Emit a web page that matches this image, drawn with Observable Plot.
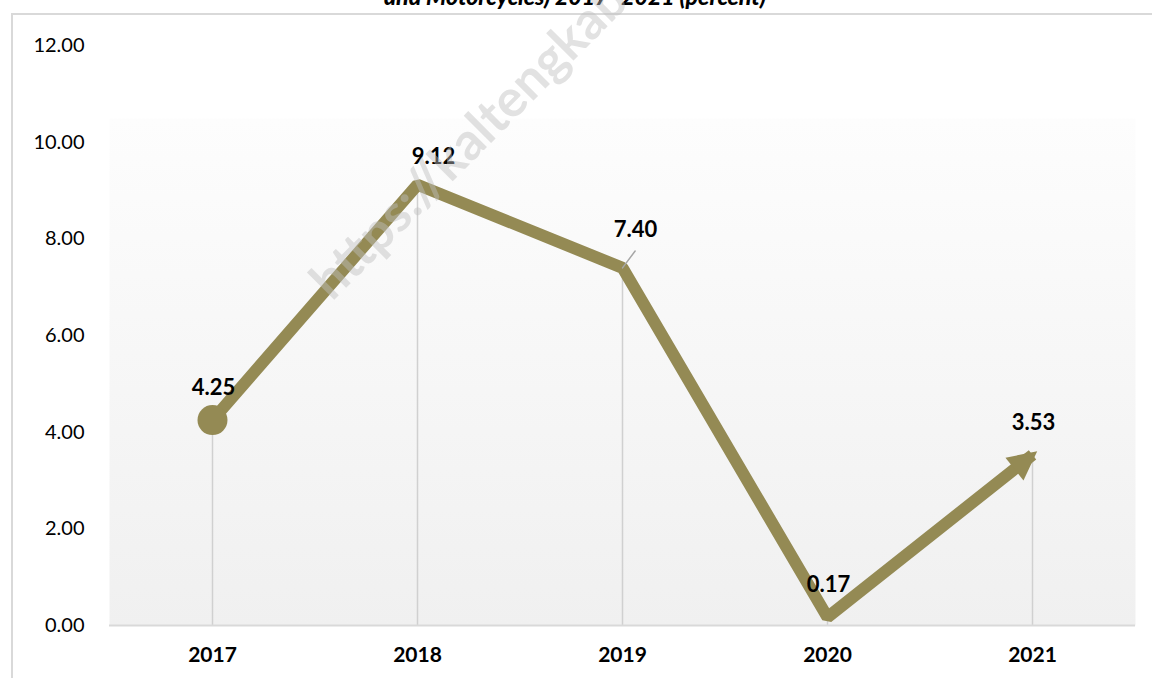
<!DOCTYPE html>
<html>
<head>
<meta charset="utf-8">
<script src="https://cdn.jsdelivr.net/npm/d3@7"></script>
<script src="https://cdn.jsdelivr.net/npm/@observablehq/plot@0.6"></script>
<style>
  html, body { margin: 0; padding: 0; background: #fff; }
  #wrap { position: relative; width: 1152px; height: 678px; overflow: hidden; font-family: Lato, "Open Sans", sans-serif; }
  #wrap > * { position: absolute; left: 0; top: 0; }
  #border { left: 11px; top: 13px; width: 1200px; height: 700px; border-top: 2px solid #d9d9d9; border-left: 2px solid #d9d9d9; box-sizing: border-box; }
  .overlay { pointer-events: none; }
</style>
</head>
<body>
<div id="wrap">
  <div id="border"></div>
  <div id="chart"></div>
  <svg class="overlay" width="1152" height="678" xmlns="http://www.w3.org/2000/svg">
    <text x="575" y="5" text-anchor="middle" font-family="Lato, 'Open Sans', sans-serif" font-size="23" font-weight="900" font-style="italic" fill="#000">and Motorcycles) 2017- 2021 (percent)</text>
    <text transform="translate(332,302) rotate(-45)" font-family="Lato, 'Open Sans', sans-serif" font-size="52" font-weight="bold" fill="#bfbfbf" opacity="0.45">https://kaltengkab.bps.go.id</text>
  </svg>
</div>
<script>
// ---- data ----
const years = ["2017", "2018", "2019", "2020", "2021"];
const growth = [4.25, 9.12, 7.40, 0.17, 3.53];
const yTicks = [0, 2, 4, 6, 8, 10, 12];

const data = years.map((year, i) => ({year, value: growth[i]}));
const lineColor = "#948a54";
const fmt = d => d.toFixed(2);

// filled arrowhead marker for the end of the line
function arrowHead(color) {
  const ns = "http://www.w3.org/2000/svg";
  const m = document.createElementNS(ns, "marker");
  m.setAttribute("viewBox", "-30 -18 40 36");
  m.setAttribute("markerWidth", "40");
  m.setAttribute("markerHeight", "36");
  m.setAttribute("markerUnits", "userSpaceOnUse");
  m.setAttribute("refX", "0");
  m.setAttribute("refY", "0");
  m.setAttribute("orient", "auto");
  const p = document.createElementNS(ns, "path");
  p.setAttribute("d", "M6,0L-23,-14.5L-23,14.5Z");
  p.setAttribute("fill", color);
  p.setAttribute("stroke", "none");
  m.appendChild(p);
  return m;
}

const leader = {draw(ctx, l) { ctx.moveTo(0, 0); ctx.lineTo(0, -l); }};

const chart = Plot.plot({
  width: 1152,
  height: 678,
  marginLeft: 109,
  marginRight: 17,
  marginTop: 45,
  marginBottom: 53,
  style: {fontFamily: "Lato, 'Open Sans', sans-serif", fontSize: "20px", color: "#000", background: "transparent"},
  x: {type: "point", domain: years, padding: 0.5, label: null},
  y: {domain: [0, 12], label: null},
  marks: [
    Plot.frame({fill: "url(#plotGrad)", stroke: null}),
    Plot.axisY({ticks: yTicks, tickFormat: fmt, tickSize: 0, tickPadding: 25, fontSize: 20, label: null}),
    Plot.axisX({tickSize: 0, tickPadding: 22, fontSize: 21, fontWeight: "bold", label: null}),
    Plot.ruleX(data, {x: "year", y1: 0, y2: "value", stroke: "#d0d0d0", strokeWidth: 1.5}),
    Plot.ruleY([0], {stroke: "#d9d9d9", strokeWidth: 2}),
    Plot.line(data, {x: "year", y: "value", stroke: lineColor, strokeWidth: 12, strokeLinejoin: "miter", strokeLinecap: "butt", markerEnd: arrowHead}),
    Plot.dot(data.slice(0, 1), {x: "year", y: "value", r: 15, fill: lineColor, stroke: null}),
    Plot.vector(data.filter(d => d.year === "2019"), {x: "year", y: "value", length: 21, rotate: 37, anchor: "start", shape: leader, stroke: "#a6a6a6", strokeWidth: 1.5}),
    Plot.text(data.filter(d => d.year === "2017" || d.year === "2020" || d.year === "2021"), {x: "year", y: "value", text: d => fmt(d.value), dy: -32, dx: 1, fontSize: 22, fontWeight: "bold", fill: "#000"}),
    Plot.text(data.filter(d => d.year === "2018"), {x: "year", y: "value", text: d => fmt(d.value), dy: -28, dx: 16, fontSize: 22, fontWeight: "bold", fill: "#000"}),
    Plot.text(data.filter(d => d.year === "2019"), {x: "year", y: "value", text: d => fmt(d.value), dy: -38, dx: 13, fontSize: 22, fontWeight: "bold", fill: "#000"})
  ]
});

// gradient for the plot area
const ns = "http://www.w3.org/2000/svg";
const defs = document.createElementNS(ns, "defs");
const grad = document.createElementNS(ns, "linearGradient");
grad.setAttribute("id", "plotGrad");
grad.setAttribute("x1", "0"); grad.setAttribute("y1", "0");
grad.setAttribute("x2", "0"); grad.setAttribute("y2", "1");
[["0", "#ffffff"], ["0.125", "#ffffff"], ["0.127", "#fdfdfd"], ["1", "#f0f0f0"]].forEach(([o, c]) => {
  const s = document.createElementNS(ns, "stop");
  s.setAttribute("offset", o);
  s.setAttribute("stop-color", c);
  grad.appendChild(s);
});
defs.appendChild(grad);
chart.insertBefore(defs, chart.firstChild);

document.getElementById("chart").appendChild(chart);
</script>
</body>
</html>
